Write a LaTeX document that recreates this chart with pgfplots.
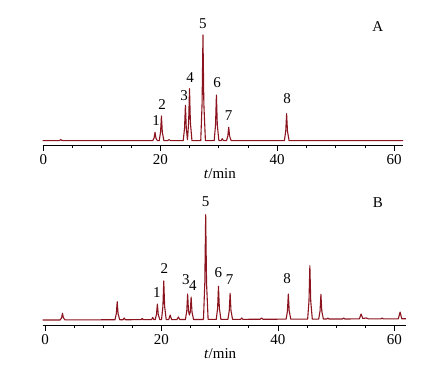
\documentclass[border=0pt]{standalone}
\usepackage{pgfplots}
\pgfplotsset{compat=1.18}
\usepackage{fontspec}
\setmainfont{Liberation Serif}
\definecolor{chrom}{RGB}{140,20,30}
\tikzset{lab/.style={font=\fontsize{15}{17}\selectfont, inner sep=0pt}}
\pgfplotsset{
  chromaxis/.style={
    scale only axis,
    axis x line*=bottom, axis y line=none,
    x axis line style={-, line width=0.7pt},
    xtick={0,20,40,60},
    minor xtick={5,10,15,25,30,35,45,50,55},
    tick align=outside,
    major tick length=6pt, minor tick length=3pt,
    tick style={black, line width=0.7pt},
    /pgf/number format/assume math mode=true,
    ticklabel style={font=\fontsize{15}{17}\selectfont},
    clip=false,
  },
}
\begin{document}
\begin{tikzpicture}
\useasboundingbox (0,0) rectangle (439pt,367pt);
% ---------- A ----------
\begin{axis}[chromaxis, at={(42.7pt,222pt)}, anchor=south west,
  width=360.3pt, height=114.3pt, xmin=-0.1, xmax=61.5, ymin=-4.3, ymax=110]
\addplot[chrom, line width=1.1pt, line join=round] coordinates {
(-0.1,0) (2.7,0) (2.9,0.6)(3.0,1.2)(3.1,0.6)(3.3,0)
(18.72,0)(18.95,2.9)(19.1,8.4)(19.25,2.9)(19.5,0)
(19.82,0)(20.05,8.6)(20.2,24.7)(20.35,8.6)(20.62,0)
(21.2,0)(21.5,1.0)(21.8,0)
(23.92,0)(24.15,12.4)(24.3,35.4)(24.45,12.4)(24.65,1)
(24.85,18.2)(25.0,52)(25.15,18.2)(25.42,0)
(26.92,0)(27.15,37)(27.3,105.7)(27.45,37)(27.72,0)
(29.22,0)(29.45,16)(29.6,45.7)(29.75,16)(30.02,0)
(30.4,0)(30.6,2)(30.8,0)
(31.32,0)(31.55,4.7)(31.7,13.4)(31.85,4.7)(32.12,0)
(41.22,0)(41.45,9.5)(41.6,27)(41.75,9.5)(42.02,0)
(61.5,0)
};
\node[lab] at (axis cs:19.3,20) {1};
\node[lab] at (axis cs:20.3,35.7) {2};
\node[lab] at (axis cs:24.1,45) {3};
\node[lab] at (axis cs:25.1,63) {4};
\node[lab] at (axis cs:27.3,116.7) {5};
\node[lab] at (axis cs:29.7,57.7) {6};
\node[lab] at (axis cs:31.7,25) {7};
\node[lab] at (axis cs:41.7,41.7) {8};
\node[lab] at (axis cs:57.2,114) {A};
\node[lab] at (axis cs:30.2,-33) {\textit{t}/min};
\end{axis}
% ---------- B ----------
\begin{axis}[chromaxis, at={(42.7pt,42pt)}, anchor=south west,
  width=363.2pt, height=115pt, xmin=-0.4, xmax=62, ymin=-5, ymax=110]
\addplot[chrom, line width=1.1pt, line join=round] coordinates {
(-0.4,0)(2.6,0.05)(2.85,2.3)(3.0,6.7)(3.15,2.3)(3.45,0.07)
(12.02,0.25)(12.25,6.4)(12.4,18.3)(12.55,6.4)(12.82,0.26)
(13.4,0.27)(13.6,2)(13.8,0.28)
(16.5,0.33)(16.7,1.5)(16.9,0.34)
(18.3,0.37)(18.5,2.5)(18.7,0.38)
(18.92,0.38)(19.15,5.6)(19.3,16)(19.45,5.6)(19.72,0.4)
(20.02,0.4)(20.25,13.6)(20.4,39)(20.55,13.6)(20.82,0.42)
(21.25,0.43)(21.5,5)(21.75,0.44)
(22.65,0.45)(22.9,3)(23.15,0.46)
(24.12,0.48)(24.35,9)(24.5,26)(24.65,9)(24.8,5)(24.95,8)(25.1,23)(25.25,8)(25.52,0.5)
(27.22,0.55)(27.45,37)(27.6,105.3)(27.75,37)(28.02,0.56)
(29.42,0.59)(29.65,11.8)(29.8,33.7)(29.95,11.8)(30.22,0.6)
(31.42,0.63)(31.65,9.3)(31.8,26.7)(31.95,9.3)(32.22,0.64)
(33.6,0.67)(33.8,2)(34.0,0.68)
(36.95,0.74)(37.2,2)(37.45,0.75)
(41.42,0.83)(41.65,9.1)(41.8,26)(41.95,9.1)(42.22,0.84)
(45.12,0.9)(45.35,19)(45.5,54.3)(45.65,19)(45.92,0.92)
(47.02,0.94)(47.25,9)(47.4,25.7)(47.55,9)(47.82,0.96)
(48.4,0.97)(48.6,2)(48.8,0.98)
(51.1,1.02)(51.3,2)(51.5,1.03)
(54.0,1.08)(54.3,6)(54.6,1.5)(55.2,2)(55.6,1.1)
(57.7,1.15)(57.9,2)(58.1,1.16)
(60.7,1.2)(61.0,8)(61.3,1.2)(62,1.24)
};
\node[lab] at (axis cs:19.2,27.7) {1};
\node[lab] at (axis cs:20.5,51.7) {2};
\node[lab] at (axis cs:24.2,40) {3};
\node[lab] at (axis cs:25.4,34) {4};
\node[lab] at (axis cs:27.6,118.3) {5};
\node[lab] at (axis cs:29.8,47.7) {6};
\node[lab] at (axis cs:31.7,40) {7};
\node[lab] at (axis cs:41.6,41) {8};
\node[lab] at (axis cs:57.2,117.3) {B};
\node[lab] at (axis cs:30.1,-33.3) {\textit{t}/min};
\end{axis}
\end{tikzpicture}
\end{document}
